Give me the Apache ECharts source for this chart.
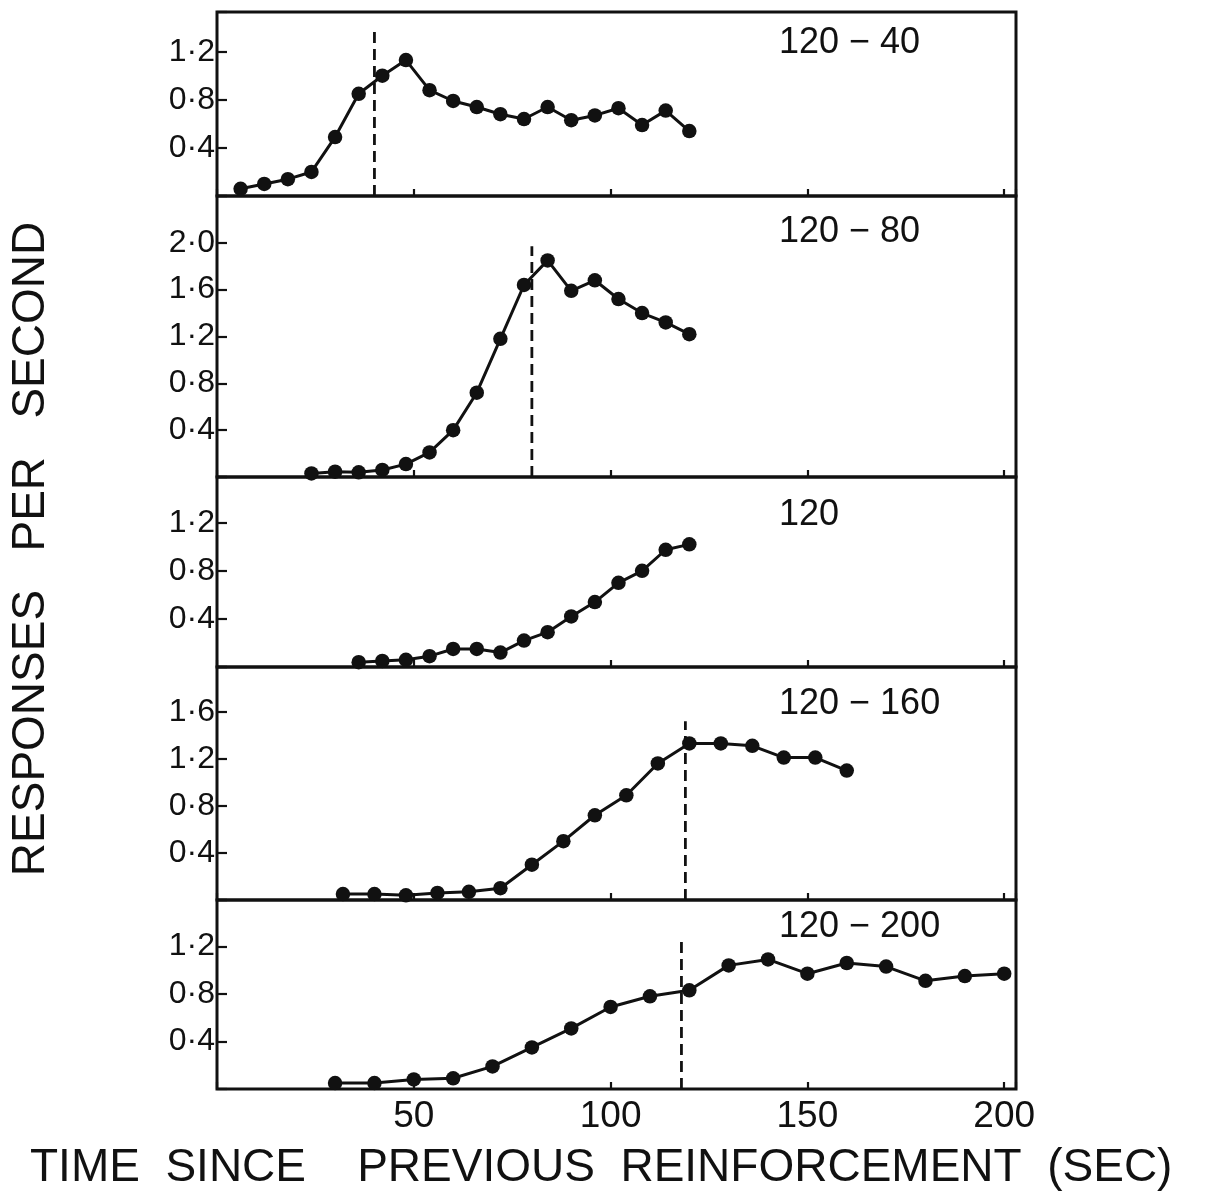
<!DOCTYPE html>
<html>
<head>
<meta charset="utf-8">
<script src="https://cdn.jsdelivr.net/npm/echarts@6/dist/echarts.min.js"></script>
<style>
  html, body { margin: 0; padding: 0; background: #fff; }
  #chart { width: 1218px; height: 1202px; }
</style>
</head>
<body>
<div id="chart"></div>
<script>
// ---------- data ----------
const panelLabels = ['120 \u2212 40', '120 \u2212 80', '120', '120 \u2212 160', '120 \u2212 200'];

const p1X = [6, 12, 18, 24, 30, 36, 42, 48, 54, 60, 66, 72, 78, 84, 90, 96, 102, 108, 114, 120];
const p1Y = [0.06, 0.10, 0.14, 0.20, 0.49, 0.85, 1.00, 1.13, 0.88, 0.79, 0.74, 0.68, 0.64, 0.74, 0.63, 0.67, 0.73, 0.59, 0.71, 0.54];

const p2X = [24, 30, 36, 42, 48, 54, 60, 66, 72, 78, 84, 90, 96, 102, 108, 114, 120];
const p2Y = [0.03, 0.045, 0.04, 0.06, 0.11, 0.21, 0.40, 0.72, 1.18, 1.64, 1.85, 1.59, 1.68, 1.52, 1.40, 1.32, 1.22];

const p3X = [36, 42, 48, 54, 60, 66, 72, 78, 84, 90, 96, 102, 108, 114, 120];
const p3Y = [0.04, 0.05, 0.06, 0.09, 0.15, 0.15, 0.12, 0.22, 0.29, 0.42, 0.54, 0.70, 0.80, 0.975, 1.02];

const p4X = [32, 40, 48, 56, 64, 72, 80, 88, 96, 104, 112, 120, 128, 136, 144, 152, 160];
const p4Y = [0.05, 0.05, 0.04, 0.06, 0.07, 0.10, 0.30, 0.50, 0.72, 0.89, 1.16, 1.33, 1.33, 1.31, 1.21, 1.21, 1.10];

const p5X = [30, 40, 50, 60, 70, 80, 90, 100, 110, 120, 130, 140, 150, 160, 170, 180, 190, 200];
const p5Y = [0.05, 0.05, 0.08, 0.09, 0.19, 0.35, 0.51, 0.69, 0.78, 0.83, 1.04, 1.09, 0.97, 1.06, 1.03, 0.91, 0.95, 0.97];

// vertical dashed markers (time, top value); null = none
const dashX   = [40, 80, null, 119, 118];
const dashTop = [1.41, 1.97, null, 1.52, 1.27];

// axis ranges
const xMin = 0, xMax = 203, xInterval = 50;
const yMaxes = [1.53, 2.40, 1.58, 1.98, 1.59];
const yInterval = 0.4;

const xTickLabels = [50, 100, 150, 200];

const yTitle = 'RESPONSES   PER   SECOND';
const xTitle = 'TIME  SINCE    PREVIOUS  REINFORCEMENT  (SEC)';

// ---------- layout ----------
const FONT = "'Liberation Sans', Arial, Helvetica, sans-serif";
const INK = '#111';
const gridLeft = 217, gridRight = 202;
const panelBox = [
  { top: 12,  height: 184 },
  { top: 196, height: 281 },
  { top: 477, height: 190 },
  { top: 667, height: 233 },
  { top: 900, height: 189 }
];
const labelCenterY = [46, 235, 518, 707, 930];

const seriesX = [p1X, p2X, p3X, p4X, p5X];
const seriesY = [p1Y, p2Y, p3Y, p4Y, p5Y];

const grids = [], xAxes = [], yAxes = [], series = [], graphics = [];

panelBox.forEach((b, i) => {
  grids.push({
    left: gridLeft, right: gridRight, top: b.top, height: b.height,
    show: true, borderColor: INK, borderWidth: 3, backgroundColor: 'transparent'
  });
  xAxes.push({
    gridIndex: i, type: 'value', min: xMin, max: xMax, interval: xInterval,
    splitLine: { show: false },
    axisLine: { show: false },
    axisTick: { show: true, inside: true, length: 7, lineStyle: { color: INK, width: 2.2 } },
    axisLabel: {
      show: i === 4, margin: 9, color: INK, fontSize: 37, fontFamily: FONT,
      formatter: v => (xTickLabels.indexOf(v) >= 0 ? String(v) : '')
    }
  });
  const yMax = yMaxes[i];
  yAxes.push({
    gridIndex: i, type: 'value', min: 0, max: yMax, interval: yInterval,
    splitLine: { show: false },
    axisLine: { show: false },
    axisTick: { show: true, inside: true, length: 10, lineStyle: { color: INK, width: 2.2 } },
    axisLabel: {
      margin: 2, color: INK, fontSize: 32, fontFamily: FONT,
      formatter: v => {
        if (v <= 1e-9 || v >= yMax - 1e-6) return '';
        const k = v / yInterval;
        if (Math.abs(k - Math.round(k)) > 1e-6) return '';
        return v.toFixed(1).replace('.', '\u00B7');
      }
    }
  });
  if (dashX[i] !== null) {
    series.push({
      type: 'line', xAxisIndex: i, yAxisIndex: i, z: 1,
      data: [[dashX[i], 0], [dashX[i], dashTop[i]]],
      symbol: 'none', silent: true,
      lineStyle: { color: INK, width: 2.8, type: [11, 6] }
    });
  }
  series.push({
    type: 'line', xAxisIndex: i, yAxisIndex: i, z: 3,
    data: seriesX[i].map((x, j) => [x, seriesY[i][j]]),
    symbol: 'circle', symbolSize: 14.5, clip: false,
    itemStyle: { color: INK },
    lineStyle: { color: INK, width: 3 }
  });
  graphics.push({
    type: 'text', left: 779, top: labelCenterY[i] - 21,
    style: { text: panelLabels[i], fill: INK, font: '36px ' + FONT }
  });
});

graphics.push({
  type: 'text', x: 31, y: 549, rotation: Math.PI / 2,
  style: { text: yTitle, x: 0, y: 0, align: 'center', verticalAlign: 'middle', fill: INK, font: '46px ' + FONT }
});
graphics.push({
  type: 'text', x: 30, y: 1168,
  style: { text: xTitle, x: 0, y: 0, align: 'left', verticalAlign: 'middle', fill: INK, font: '46px ' + FONT }
});

const chart = echarts.init(document.getElementById('chart'), null, { renderer: 'canvas' });
chart.setOption({
  animation: false,
  backgroundColor: '#fff',
  grid: grids,
  xAxis: xAxes,
  yAxis: yAxes,
  series: series,
  graphic: graphics
});
</script>
</body>
</html>
